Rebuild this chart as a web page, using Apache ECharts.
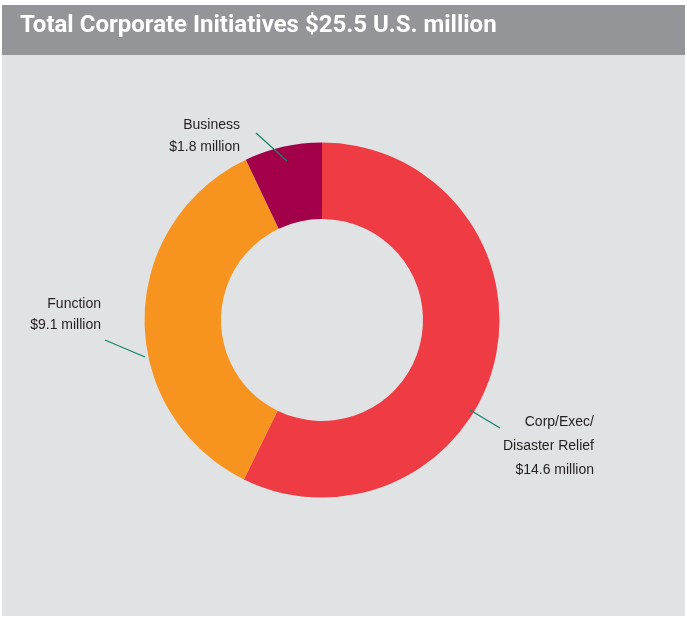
<!DOCTYPE html>
<html>
<head>
<meta charset="utf-8">
<style>
html,body{margin:0;padding:0;background:#ffffff;}
#chart{width:687px;height:618px;}
</style>
<script src="https://cdn.jsdelivr.net/npm/echarts@6/dist/echarts.min.js"></script>
</head>
<body>
<div id="chart"></div>
<script>
const titleText = 'Total Corporate Initiatives $25.5 U.S. million';
const categories = ['Corp/Exec/\nDisaster Relief', 'Function', 'Business'];
const values = [14.6, 9.1, 1.8];
const colors = ['#ef3b43', '#f7941f', '#a3004a'];

// label placement (text anchor right/top, line heights, leader line endpoints)
const labelPos = [
  {x: 594, y: 410, lh: 24, line: [[470, 410], [500, 428]]},
  {x: 101, y: 294, lh: 21, line: [[145, 357], [105, 340]]},
  {x: 240, y: 114, lh: 22, line: [[287, 161], [256, 133]]}
];

const leaderLines = labelPos.map(lp => ({
  type: 'line', z: 100, silent: true,
  shape: {x1: lp.line[0][0], y1: lp.line[0][1], x2: lp.line[1][0], y2: lp.line[1][1]},
  style: {stroke: '#13876b', lineWidth: 1.3}
}));

const chart = echarts.init(document.getElementById('chart'), null, {renderer: 'canvas'});
chart.setOption({
  backgroundColor: '#ffffff',
  animation: false,
  graphic: [
    {type: 'rect', z: -10, silent: true, shape: {x: 2, y: 5, width: 683, height: 50}, style: {fill: '#939598'}},
    {type: 'rect', z: -10, silent: true, shape: {x: 2, y: 55, width: 683, height: 561}, style: {fill: '#e1e2e3'}},
    {type: 'text', z: 10, left: 20, top: 14, style: {text: titleText, fill: '#ffffff', font: 'bold 24px Roboto, "Liberation Sans", sans-serif'}}
  ].concat(leaderLines),
  series: [{
    type: 'pie',
    center: [322, 320],
    radius: [101, 177.5],
    startAngle: 90,
    clockwise: true,
    silent: true,
    itemStyle: {borderWidth: 0},
    label: {
      show: true,
      formatter: p => p.name + '\n$' + p.value + ' million',
      color: '#231f20',
      fontSize: 14,
      fontFamily: '"Liberation Sans", Arial, sans-serif',
      align: 'right'
    },
    labelLine: {show: false},
    labelLayout: function (params) {
      const lp = labelPos[params.dataIndex];
      return {
        x: lp.x,
        y: lp.y,
        align: 'right',
        verticalAlign: 'top'
      };
    },
    data: categories.map((c, i) => ({
      name: c,
      value: values[i],
      itemStyle: {color: colors[i]},
      label: {lineHeight: labelPos[i].lh}
    }))
  }]
});
</script>
</body>
</html>
